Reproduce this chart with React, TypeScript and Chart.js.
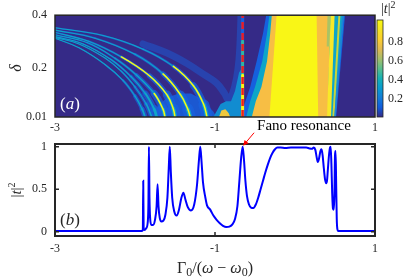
import React, { useEffect, useRef } from "react";
import { Chart, registerables } from "chart.js";

Chart.register(...registerables);

const SERIF = "'Liberation Serif', 'Times New Roman', 'DejaVu Serif', serif";

// ---------------- axes ----------------
const X_MIN = -3;
const X_MAX = 1;
const X_TICKS = [-3, -1, 1];
const DELTA_MIN = 0.01;
const DELTA_MAX = 0.4;
const DELTA_TICKS = [0.01, 0.2, 0.4];
const T_MIN = -0.05;
const T_MAX = 1.032;
const T_TICKS = [0, 0.5, 1];
const CB_MIN = 0.016;
const CB_MAX = 1.026;
const CB_TICKS = [0.2, 0.4, 0.6, 0.8];

// ---------------- panel (b): |t|^2 versus Γ0/(ω−ω0) ----------------
const B_X = [
  -3, -1.91, -1.902, -1.897, -1.892, -1.885,
  -1.86, -1.84, -1.832, -1.826, -1.819, -1.81,
  -1.795, -1.775, -1.75, -1.73, -1.718, -1.706,
  -1.69, -1.67, -1.645, -1.62, -1.595, -1.578,
  -1.565, -1.552, -1.535, -1.51, -1.48, -1.45,
  -1.42, -1.395, -1.37, -1.34, -1.3, -1.26,
  -1.225, -1.2, -1.184, -1.168, -1.15, -1.12,
  -1.1, -1.06, -1.02, -0.98, -0.94, -0.9,
  -0.86, -0.82, -0.78, -0.75, -0.72, -0.695,
  -0.672, -0.654, -0.638, -0.62, -0.6, -0.575,
  -0.55, -0.52, -0.49, -0.46, -0.43, -0.4,
  -0.37, -0.34, -0.31, -0.28, -0.25, -0.22,
  -0.18, -0.12, -0.05, 0.02, 0.09, 0.14,
  0.18, 0.21, 0.235, 0.255, 0.27, 0.285,
  0.3, 0.318, 0.332, 0.345, 0.36, 0.375,
  0.39, 0.4, 0.41, 0.425, 0.438, 0.446,
  0.455, 0.465, 0.475, 0.485, 0.493, 0.5,
  0.507, 0.514, 0.522, 0.53, 0.538, 0.55,
  1,
];
const B_T = [
  0.01, 0.01, 0.03, 0.6, 0.05, 0.02,
  0.04, 0.12, 0.35, 1.0, 0.4, 0.15,
  0.08, 0.08, 0.14, 0.3, 0.56, 0.3,
  0.16, 0.12, 0.13, 0.2, 0.4, 0.75,
  1.0, 0.7, 0.4, 0.24, 0.19, 0.26,
  0.4, 0.46, 0.38, 0.29, 0.25, 0.32,
  0.55, 0.85, 1.0, 0.82, 0.58, 0.4,
  0.31, 0.26, 0.19, 0.14, 0.1, 0.07,
  0.055, 0.06, 0.09, 0.15, 0.3, 0.6,
  0.88, 1.0, 0.85, 0.6, 0.42, 0.32,
  0.285, 0.28, 0.32, 0.4, 0.5, 0.6,
  0.7, 0.79, 0.87, 0.93, 0.97, 0.99,
  0.99, 0.985, 0.99, 0.99, 0.99, 0.99,
  0.98, 0.975, 0.99, 0.96, 0.88, 0.82,
  0.86, 0.95, 0.97, 0.9, 0.75, 0.62,
  0.57, 0.6, 0.72, 0.9, 0.99, 1.0,
  0.8, 0.45, 0.27, 0.26, 0.45, 0.9,
  0.95, 0.6, 0.15, 0.03, 0.01, 0.01,
  0.01,
];

// ---------------- panel (a): features of the |t|^2 map, (x, δ) ----------------
const FANO_X = -0.655;
const FANO_D = [0.4, 0.3, 0.17, 0.01];

// transmission window (right block): left edge bottom->top, then top-right, bottom-right
const HALO_X = [-0.68, -0.62, -0.56, -0.48, -0.4, -0.36, 0.625, 0.515];
const HALO_D = [0.01, 0.07, 0.125, 0.223, 0.33, 0.4, 0.4, 0.01];
const FRINGE_X = [-0.61, -0.56, -0.5, -0.41, -0.35, -0.32, 0.61, 0.505];
const FRINGE_D = [0.01, 0.07, 0.125, 0.223, 0.33, 0.4, 0.4, 0.01];
const ORANGE_X = [-0.54, -0.49, -0.42, -0.35, -0.31, -0.29, 0.44, 0.41];
const ORANGE_D = [0.01, 0.07, 0.125, 0.223, 0.33, 0.4, 0.4, 0.01];
const CORE_X = [-0.32, -0.23, 0.27, 0.29];
const CORE_D = [0.01, 0.4, 0.4, 0.01];
const GREEN_X = [0.425, 0.415];
const GREEN_D = [0.4, 0.28];
const RIDGE_X = [0.47, 0.425];
const RIDGE_D = [0.4, 0.01];
const RIDGE2_X = [0.555, 0.48];
const RIDGE2_D = [0.4, 0.01];
const EDGE_X = [0.6, 0.5];
const EDGE_D = [0.4, 0.01];

// V-shaped glow left of the Fano line
const VBAND_X = [-1.9, -1.6, -1.35, -1.15, -0.98, -0.88, -0.83, -0.78, -0.73, -0.7, -0.685, -0.675];
const VBAND_D = [0.29, 0.255, 0.215, 0.175, 0.14, 0.1, 0.075, 0.1, 0.16, 0.23, 0.31, 0.4];
const VFILL_X = [-1.02, -0.93, -0.86, -0.8, -0.75, -0.7, -0.66, -0.66];
const VFILL_D = [0.01, 0.06, 0.07, 0.07, 0.11, 0.18, 0.2, 0.01];
const BLOB_X = [-0.95, -0.92, -0.87, -0.83, -0.81];
const BLOB_D = [0.01, 0.035, 0.04, 0.025, 0.01];
// broad glow under the bands near δ = 0.01
const GLOW_X = [-1.76, -1.72, -1.6, -1.45, -1.3, -1.15, -1.02, -0.98];
const GLOW_D = [0.01, 0.05, 0.085, 0.1, 0.1, 0.075, 0.03, 0.01];

// resonance bands (curved), from left edge down to δ = 0.01
const C1_X = [-3, -2.7, -2.375, -2.15, -2.0, -1.91, -1.875];
const C1_D = [0.312, 0.275, 0.211, 0.15, 0.09, 0.04, 0.01];
const C2_X = [-3, -2.7, -2.375, -2.17, -2.0, -1.86, -1.79];
const C2_D = [0.315, 0.29, 0.236, 0.185, 0.125, 0.06, 0.01];
const C3_X = [-3, -2.65, -2.3, -2.05, -1.87, -1.76, -1.73];
const C3_D = [0.318, 0.29, 0.23, 0.165, 0.1, 0.04, 0.01];
const C4_X = [-3, -2.6, -2.25, -1.98, -1.76, -1.65, -1.625];
const C4_D = [0.325, 0.295, 0.235, 0.17, 0.1, 0.04, 0.01];
const C5_X = [-3, -2.58, -2.17, -1.82, -1.6, -1.52, -1.5];
const C5_D = [0.334, 0.3, 0.24, 0.168, 0.095, 0.04, 0.01];
const C6_X = [-3, -2.5, -2.0, -1.65, -1.43, -1.34, -1.31];
const C6_D = [0.343, 0.312, 0.25, 0.175, 0.095, 0.04, 0.01];
const C7_X = [-3, -2.4, -1.9, -1.52, -1.27, -1.14, -1.1];
const C7_D = [0.352, 0.322, 0.27, 0.204, 0.13, 0.057, 0.01];

// ---------------- colours ----------------
const AXIS = "#262626";
const NAVY = "rgb(53,42,135)";
const BLUE = "rgb(22,96,222)";
const CYAN = "rgb(14,165,200)";
const TEAL = "rgb(45,183,165)";
const ORANGE = "rgb(247,190,68)";
const YELLOW = "rgb(249,246,22)";
const PARULA = [
  "rgb(53,42,135)", "rgb(15,92,221)", "rgb(18,125,216)", "rgb(7,156,207)",
  "rgb(21,177,180)", "rgb(89,189,140)", "rgb(165,190,107)", "rgb(225,185,82)",
  "rgb(252,206,46)", "rgb(245,227,35)", "rgb(249,251,14)",
];

const pts = (xs: number[], ys: number[]) => xs.map((x, i) => ({ x, y: ys[i] }));

function polyDs(xs: number[], ds: number[], color: string) {
  return {
    data: pts(xs, ds), fill: "shape", backgroundColor: color, borderWidth: 0,
    tension: 0, pointRadius: 0, clip: 0,
  };
}
function lineDs(xs: number[], ds: number[], color: string, width: number, extra: any = {}) {
  return {
    data: pts(xs, ds), fill: false, borderColor: color, borderWidth: width,
    tension: 0.4, pointRadius: 0, clip: 0, borderCapStyle: "round", borderJoinStyle: "round",
    ...extra,
  };
}
const midD = (c: any) => (c.p0.parsed.y + c.p1.parsed.y) / 2;
function bandDs(xs: number[], ds: number[], strength: number, yellowBelow: number) {
  const haloW = (c: any) => strength * (1.6 + 12 * Math.pow(1 - midD(c) / DELTA_MAX, 3));
  return [
    lineDs(xs, ds, "rgba(24,98,222,0.7)", 2, { segment: { borderWidth: haloW } }),
    lineDs(xs, ds, CYAN, 1.5, { segment: { borderWidth: (c: any) => Math.max(1.1, haloW(c) * 0.35) } }),
    lineDs(xs, ds, YELLOW, 1.5, {
      segment: { borderColor: (c: any) => (midD(c) < yellowBelow ? YELLOW : "rgba(0,0,0,0)") },
    }),
  ];
}

type Run = { t: string; size: number; italic?: boolean; dy?: number };
function drawRuns(ctx: CanvasRenderingContext2D, runs: Run[], x: number, y: number, align: "left" | "center") {
  const f = (r: Run) => `${r.italic ? "italic " : ""}${r.size}px ${SERIF}`;
  let w = 0;
  for (const r of runs) { ctx.font = f(r); w += ctx.measureText(r.t).width; }
  let cx = align === "center" ? x - w / 2 : x;
  ctx.textAlign = "left";
  ctx.textBaseline = "alphabetic";
  for (const r of runs) {
    ctx.font = f(r);
    ctx.fillText(r.t, cx, y + (r.dy || 0));
    cx += ctx.measureText(r.t).width;
  }
}

const tickFont = { family: SERIF, size: 12 };
function fixedTicks(values: number[]) {
  return (s: any) => { s.ticks = values.map((v) => ({ value: v })); };
}

const baseOpts = {
  responsive: false, maintainAspectRatio: false, devicePixelRatio: 1, animation: false, events: [],
  plugins: { legend: { display: false }, tooltip: { enabled: false } },
};

function makeTop(canvas: HTMLCanvasElement) {
  const list: any[] = [
    polyDs(HALO_X, HALO_D, BLUE),
    polyDs(FRINGE_X, FRINGE_D, CYAN),
    lineDs(RIDGE2_X, RIDGE2_D, "rgb(200,212,60)", 2, { tension: 0 }),
    lineDs(EDGE_X, EDGE_D, "rgb(30,130,215)", 1.5, { tension: 0 }),
    polyDs(ORANGE_X, ORANGE_D, ORANGE),
    polyDs(CORE_X, CORE_D, YELLOW),
    lineDs(GREEN_X, GREEN_D, "rgb(170,195,100)", 3, { tension: 0, borderCapStyle: "butt" }),
    lineDs(RIDGE_X, RIDGE_D, "rgb(248,232,40)", 4, { tension: 0, borderCapStyle: "butt" }),
    lineDs(VBAND_X, VBAND_D, "rgba(24,98,222,0.45)", 7),
    polyDs(GLOW_X, GLOW_D, "rgba(22,96,222,0.85)"),
    polyDs(VFILL_X, VFILL_D, "rgb(18,140,208)"),
    polyDs(BLOB_X, BLOB_D, "rgb(240,200,60)"),
    ...bandDs(C1_X, C1_D, 0.45, 0),
    ...bandDs(C2_X, C2_D, 0.45, 0),
    ...bandDs(C3_X, C3_D, 0.7, 0),
    ...bandDs(C4_X, C4_D, 0.85, 0.08),
    ...bandDs(C5_X, C5_D, 1, 0.24),
    ...bandDs(C6_X, C6_D, 1, 0.15),
    ...bandDs(C7_X, C7_D, 1, 0.2),
    lineDs(FANO_D.map(() => FANO_X), FANO_D, BLUE, 3, {
      tension: 0, borderCapStyle: "butt",
      segment: { borderColor: (c: any) => (midD(c) > 0.3 ? BLUE : midD(c) > 0.17 ? TEAL : YELLOW) },
    }),
    lineDs([FANO_X, FANO_X], [DELTA_MIN, DELTA_MAX], "rgb(235,28,36)", 2.5, {
      tension: 0, borderCapStyle: "butt", borderDash: [7, 4],
    }),
  ];
  list.forEach((d, i) => { d.order = list.length - i; });

  const plugin = {
    id: "topDecor",
    beforeDatasetsDraw(chart: any) {
      const { ctx, chartArea: a } = chart;
      ctx.save();
      ctx.fillStyle = NAVY;
      ctx.fillRect(a.left, a.top, a.right - a.left, a.bottom - a.top);
      ctx.restore();
    },
    afterDatasetsDraw(chart: any) {
      const { ctx, chartArea: a } = chart;
      ctx.save();
      ctx.strokeStyle = AXIS;
      ctx.lineWidth = 1.5;
      ctx.strokeRect(a.left, a.top, a.right - a.left, a.bottom - a.top);
      ctx.fillStyle = "#ffffff";
      drawRuns(ctx, [{ t: "(", size: 17 }, { t: "a", size: 17, italic: true }, { t: ")", size: 17 }], a.left + 5, a.bottom - 8.5, "left");
      ctx.fillStyle = AXIS;
      ctx.translate(21, (a.top + a.bottom) / 2 + 2);
      ctx.rotate(-Math.PI / 2);
      drawRuns(ctx, [{ t: "δ", size: 16, italic: true }], 0, 0, "center");
      ctx.restore();
    },
  };

  return new Chart(canvas, {
    type: "line",
    data: { datasets: list },
    options: {
      ...baseOpts,
      layout: { padding: { left: 0, right: 32, top: 10, bottom: 143 } },
      scales: {
        x: {
          type: "linear", min: X_MIN, max: X_MAX,
          afterFit: (s: any) => { s.height = 20; },
          afterBuildTicks: fixedTicks(X_TICKS),
          grid: { display: false, drawTicks: false }, border: { display: false },
          ticks: { padding: 4, font: tickFont, color: AXIS, maxRotation: 0, autoSkip: false, callback: (v: any) => String(v) },
        },
        y: {
          type: "linear", min: DELTA_MIN, max: DELTA_MAX,
          afterFit: (s: any) => { s.width = 55; },
          afterBuildTicks: fixedTicks(DELTA_TICKS),
          grid: { display: false, drawTicks: false }, border: { display: false },
          ticks: { padding: 8, font: tickFont, color: AXIS, autoSkip: false, callback: (v: any) => String(v) },
        },
      },
    } as any,
    plugins: [plugin],
  });
}

function makeColorbar(canvas: HTMLCanvasElement) {
  const plugin = {
    id: "cbDecor",
    afterDatasetsDraw(chart: any) {
      const { ctx, chartArea: a } = chart;
      ctx.save();
      ctx.strokeStyle = AXIS;
      ctx.lineWidth = 0.8;
      ctx.strokeRect(a.left, a.top, a.right - a.left, a.bottom - a.top);
      ctx.fillStyle = AXIS;
      drawRuns(ctx, [
        { t: "|", size: 14 }, { t: "t", size: 14, italic: true }, { t: "|", size: 14 },
        { t: "2", size: 10, dy: -5 },
      ], a.left + 4, 12.5, "left");
      ctx.restore();
    },
  };
  return new Chart(canvas, {
    type: "bar",
    data: {
      labels: ["|t|²"],
      datasets: [{
        data: [[CB_MIN, CB_MAX]],
        barPercentage: 1, categoryPercentage: 1, borderWidth: 0,
        backgroundColor: (c: any) => {
          const ch = c.chart;
          const a = ch.chartArea;
          if (!a) return NAVY;
          const g = ch.ctx.createLinearGradient(0, a.bottom, 0, a.top);
          PARULA.forEach((col, i) => g.addColorStop(i / (PARULA.length - 1), col));
          return g;
        },
      }],
    },
    options: {
      ...baseOpts,
      layout: { padding: { left: 377, right: 0, top: 20, bottom: 163 } },
      scales: {
        x: { display: false },
        y: {
          type: "linear", position: "right", min: CB_MIN, max: CB_MAX,
          afterFit: (s: any) => { s.width = 24; },
          afterBuildTicks: fixedTicks(CB_TICKS),
          grid: { display: false, drawTicks: false }, border: { display: false },
          ticks: { padding: 5, font: tickFont, color: AXIS, autoSkip: false, callback: (v: any) => String(v) },
        },
      },
    } as any,
    plugins: [plugin],
  });
}

function makeBottom(canvas: HTMLCanvasElement) {
  const plugin = {
    id: "botDecor",
    afterDraw(chart: any) {
      const { ctx, chartArea: a, scales } = chart;
      const xs = scales.x;
      const ys = scales.y;
      ctx.save();
      ctx.strokeStyle = AXIS;
      ctx.lineWidth = 2;
      ctx.strokeRect(a.left, a.top, a.right - a.left, a.bottom - a.top);
      ctx.lineWidth = 1.5;
      ctx.beginPath();
      for (const v of X_TICKS) {
        const px = xs.getPixelForValue(v);
        ctx.moveTo(px, a.bottom); ctx.lineTo(px, a.bottom - 4);
        ctx.moveTo(px, a.top); ctx.lineTo(px, a.top + 4);
      }
      for (const v of T_TICKS) {
        const py = ys.getPixelForValue(v);
        ctx.moveTo(a.left, py); ctx.lineTo(a.left + 4, py);
        ctx.moveTo(a.right, py); ctx.lineTo(a.right - 4, py);
      }
      ctx.stroke();

      ctx.fillStyle = AXIS;
      drawRuns(ctx, [{ t: "(", size: 17 }, { t: "b", size: 17, italic: true }, { t: ")", size: 17 }], a.left + 5, a.bottom - 11, "left");

      drawRuns(ctx, [
        { t: "Γ", size: 16 }, { t: "0", size: 12, dy: 3 }, { t: "/(", size: 16 },
        { t: "ω", size: 16, italic: true }, { t: " − ", size: 16 }, { t: "ω", size: 16, italic: true },
        { t: "0", size: 12, dy: 3 }, { t: ")", size: 16 },
      ], (a.left + a.right) / 2, 273, "center");

      ctx.save();
      ctx.translate(21, (a.top + a.bottom) / 2);
      ctx.rotate(-Math.PI / 2);
      drawRuns(ctx, [
        { t: "|", size: 15 }, { t: "t", size: 15, italic: true }, { t: "|", size: 15 },
        { t: "2", size: 10, dy: -6 },
      ], 0, 0, "center");
      ctx.restore();

      const tipX = xs.getPixelForValue(FANO_X) + 0.5;
      const tipY = ys.getPixelForValue(1) - 1;
      const sx = tipX + 11;
      const sy = tipY - 13;
      ctx.strokeStyle = "rgb(255,0,0)";
      ctx.fillStyle = "rgb(255,0,0)";
      ctx.lineWidth = 1;
      ctx.beginPath();
      ctx.moveTo(sx, sy);
      ctx.lineTo(tipX + 3, tipY - 3.5);
      ctx.stroke();
      const ang = Math.atan2(tipY - sy, tipX - sx);
      ctx.beginPath();
      ctx.moveTo(tipX, tipY);
      ctx.lineTo(tipX - 6 * Math.cos(ang - 0.45), tipY - 6 * Math.sin(ang - 0.45));
      ctx.lineTo(tipX - 6 * Math.cos(ang + 0.45), tipY - 6 * Math.sin(ang + 0.45));
      ctx.closePath();
      ctx.fill();
      ctx.fillStyle = "#000";
      drawRuns(ctx, [{ t: "Fano resonance", size: 15 }], tipX + 14, tipY - 15.5, "left");
      ctx.restore();
    },
  };

  return new Chart(canvas, {
    type: "line",
    data: {
      datasets: [{
        data: pts(B_X, B_T), borderColor: "rgb(0,0,255)", borderWidth: 2, pointRadius: 0,
        cubicInterpolationMode: "monotone", fill: false,
      }],
    },
    options: {
      ...baseOpts,
      layout: { padding: { left: 0, right: 32, top: 144, bottom: 0 } },
      scales: {
        x: {
          type: "linear", min: X_MIN, max: X_MAX,
          afterFit: (s: any) => { s.height = 44; },
          afterBuildTicks: fixedTicks(X_TICKS),
          grid: { display: false, drawTicks: false }, border: { display: false },
          ticks: { padding: 6, font: tickFont, color: AXIS, maxRotation: 0, autoSkip: false, callback: (v: any) => String(v) },
        },
        y: {
          type: "linear", min: T_MIN, max: T_MAX,
          afterFit: (s: any) => { s.width = 55; },
          afterBuildTicks: fixedTicks(T_TICKS),
          grid: { display: false, drawTicks: false }, border: { display: false },
          ticks: { padding: 8, font: tickFont, color: AXIS, autoSkip: false, callback: (v: any) => String(v) },
        },
      },
    } as any,
    plugins: [plugin],
  });
}

export default function App() {
  const topRef = useRef<HTMLCanvasElement>(null);
  const cbRef = useRef<HTMLCanvasElement>(null);
  const botRef = useRef<HTMLCanvasElement>(null);

  useEffect(() => {
    const charts = [
      makeTop(topRef.current as HTMLCanvasElement),
      makeColorbar(cbRef.current as HTMLCanvasElement),
      makeBottom(botRef.current as HTMLCanvasElement),
    ];
    return () => charts.forEach((c) => c.destroy());
  }, []);

  const cs: React.CSSProperties = { position: "absolute", left: 0, top: 0, width: "407px", height: "280px" };
  return (
    <div style={{ position: "fixed", left: 0, top: 0, width: 407, height: 280, background: "#ffffff", overflow: "hidden" }}>
      <canvas ref={topRef} width={407} height={280} style={cs} />
      <canvas ref={cbRef} width={407} height={280} style={cs} />
      <canvas ref={botRef} width={407} height={280} style={cs} />
    </div>
  );
}
